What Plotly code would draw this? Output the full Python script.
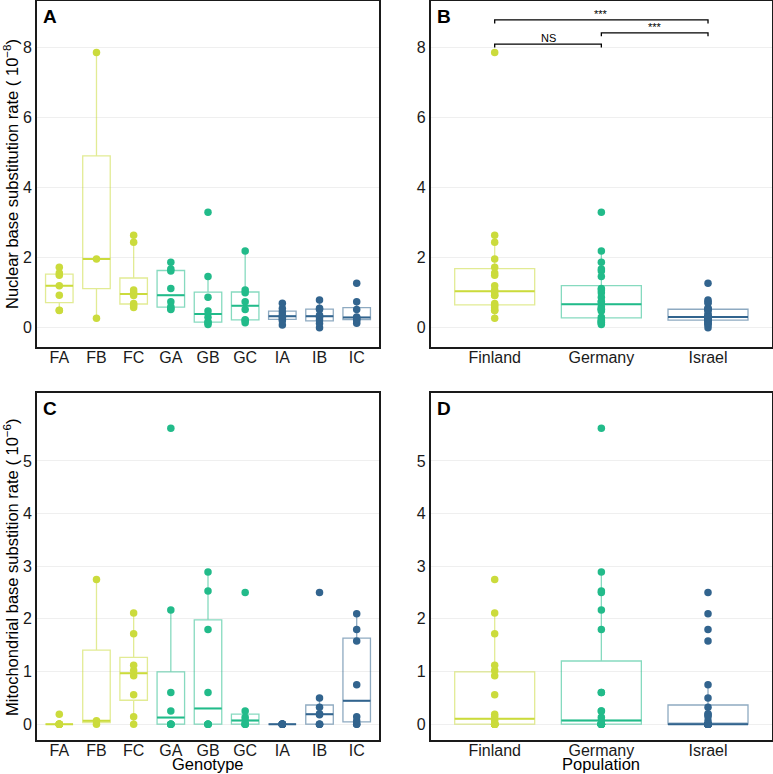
import numpy as np
import plotly.graph_objects as go

# ---------------- data ----------------
genotypes = ["FA", "FB", "FC", "GA", "GB", "GC", "IA", "IB", "IC"]
populations = ["Finland", "Germany", "Israel"]
genotype_pop = ["Finland", "Finland", "Finland", "Germany", "Germany", "Germany",
                "Israel", "Israel", "Israel"]
pop_colors = ["#CBDB3C", "#22BB8A", "#32648E"]

# Nuclear base substitution rate (x 1e-8)
nuc_FA = [0.49, 0.50, 0.93, 1.20, 1.50, 1.56, 1.73]
nuc_FB = [0.27, 1.96, 7.86]
nuc_FC = [0.58, 0.64, 0.69, 0.92, 1.00, 1.08, 2.44, 2.64]
nuc_GA = [0.52, 0.55, 0.60, 0.74, 1.12, 1.62, 1.68, 1.87]
nuc_GB = [0.09, 0.14, 0.17, 0.30, 0.48, 0.87, 1.46, 3.30]
nuc_GC = [0.14, 0.21, 0.23, 0.52, 0.74, 1.00, 1.08, 2.19]
nuc_IA = [0.08, 0.20, 0.25, 0.30, 0.36, 0.45, 0.55, 0.70]
nuc_IB = [0.00, 0.12, 0.22, 0.30, 0.36, 0.52, 0.56, 0.79]
nuc_IC = [0.13, 0.20, 0.24, 0.28, 0.31, 0.52, 0.74, 1.27]

# Mitochondrial base substitution rate (x 1e-6)
mit_FA = [0, 0, 0, 0, 0, 0, 0.19]
mit_FB = [0, 0.065, 2.75]
mit_FC = [0, 0.14, 0.56, 0.92, 1.02, 1.12, 1.72, 2.11]
mit_GA = [0, 0, 0, 0, 0.25, 0.60, 2.17, 5.62]
mit_GB = [0, 0, 0, 0, 0.60, 1.80, 2.53, 2.89]
mit_GC = [0, 0, 0, 0.07, 0.13, 0.25, 2.50]
mit_IA = [0, 0, 0, 0, 0, 0, 0, 0]
mit_IB = [0, 0, 0, 0.18, 0.20, 0.32, 0.50, 2.50]
mit_IC = [0, 0, 0.06, 0.14, 0.75, 1.58, 1.80, 2.10]

nuc_by_genotype = [nuc_FA, nuc_FB, nuc_FC, nuc_GA, nuc_GB, nuc_GC, nuc_IA, nuc_IB, nuc_IC]
mit_by_genotype = [mit_FA, mit_FB, mit_FC, mit_GA, mit_GB, mit_GC, mit_IA, mit_IB, mit_IC]

# significance comparisons (panel B)
sig_from = ["Finland", "Germany", "Finland"]
sig_to = ["Germany", "Israel", "Israel"]
sig_label = ["NS", "***", "***"]
sig_y = [8.10, 8.42, 8.79]

y_ticks_nuc = [0, 2, 4, 6, 8]
y_ticks_mit = [0, 1, 2, 3, 4, 5]

# ---------------- helpers ----------------
def rgba(hexc, a):
    h = hexc.lstrip("#")
    r, g, b = int(h[0:2], 16), int(h[2:4], 16), int(h[4:6], 16)
    return f"rgba({r},{g},{b},{a})"


def box_stats(vals):
    v = np.asarray(vals, dtype=float)
    q1, med, q3 = np.percentile(v, [25, 50, 75])
    iqr = q3 - q1
    lo = v[v >= q1 - 1.5 * iqr].min()
    hi = v[v <= q3 + 1.5 * iqr].max()
    return q1, med, q3, lo, hi


def pool(groups, names, key):
    out = []
    for g, n in zip(groups, names):
        if n == key:
            out.extend(g)
    return out


fig = go.Figure()


def add_group(cat, vals, color, xa, ya, width):
    q1, med, q3, lo, hi = box_stats(vals)
    fig.add_trace(go.Box(x=[cat], q1=[q1], median=[med], q3=[q3],
                         lowerfence=[lo], upperfence=[hi], width=width,
                         line=dict(color=rgba(color, 0.55), width=1.3),
                         fillcolor="rgba(0,0,0,0)", whiskerwidth=0,
                         boxpoints=False, showlegend=False,
                         hoverinfo="skip", xaxis=xa, yaxis=ya))
    # median line drawn stronger
    fig.add_trace(go.Box(x=[cat], q1=[med], median=[med], q3=[med],
                         lowerfence=[med], upperfence=[med], width=width,
                         line=dict(color=color, width=2),
                         fillcolor="rgba(0,0,0,0)", whiskerwidth=0,
                         boxpoints=False, showlegend=False,
                         hoverinfo="skip", xaxis=xa, yaxis=ya))


def add_points(cat, vals, color, xa, ya):
    fig.add_trace(go.Scatter(x=[cat] * len(vals), y=vals, mode="markers",
                             marker=dict(size=7.5, color=color, line=dict(width=0)),
                             showlegend=False, xaxis=xa, yaxis=ya))


panels = [
    ("x", "y", genotypes, nuc_by_genotype, genotype_pop, 0.74),
    ("x3", "y3", genotypes, mit_by_genotype, genotype_pop, 0.74),
]
for xa, ya, cats, data, pops, w in panels:
    for c, vals, p in zip(cats, data, pops):
        add_group(c, vals, pop_colors[populations.index(p)], xa, ya, w)
    for c, vals, p in zip(cats, data, pops):
        add_points(c, vals, pop_colors[populations.index(p)], xa, ya)

for xa, ya, data in [("x2", "y2", nuc_by_genotype), ("x4", "y4", mit_by_genotype)]:
    for p, col in zip(populations, pop_colors):
        add_group(p, pool(data, genotype_pop, p), col, xa, ya, 0.75)
    for p, col in zip(populations, pop_colors):
        add_points(p, pool(data, genotype_pop, p), col, xa, ya)

# significance brackets
tip = 0.1
for a, b, lab, yv in zip(sig_from, sig_to, sig_label, sig_y):
    fig.add_trace(go.Scatter(x=[a, a, b, b], y=[yv - tip, yv, yv, yv - tip],
                             mode="lines", line=dict(color="black", width=1.3),
                             showlegend=False, hoverinfo="skip",
                             xaxis="x2", yaxis="y2"))
    fig.add_annotation(x=(populations.index(a) + populations.index(b)) / 2, y=yv,
                       xref="x2", yref="y2", text=lab, showarrow=False,
                       yanchor="bottom", yshift=-2,
                       font=dict(size=11, color="black"))

# ---------------- layout ----------------
W, H = 773, 774
xl = [37 / W, 379 / W]
xr = [430.7 / W, 772 / W]
yt = [1 - 347 / H, 1 - 1 / H]
yb = [1 - 740 / H, 1 - 393 / H]

font_family = "Liberation Sans, Arial, Helvetica, sans-serif"
ax_common = dict(showline=True, mirror=True, linecolor="#1a1a1a", linewidth=1.6,
                 zeroline=False, ticks="", automargin=False,
                 tickfont=dict(size=16, color="#1a1a1a"))
x_common = dict(type="category", categoryorder="array", showgrid=False,
                ticklabelstandoff=-5, **ax_common)
y_common = dict(showgrid=True, gridcolor="#EFEFEF", gridwidth=1, **ax_common)

fig.update_layout(
    width=W, height=H, margin=dict(l=0, r=0, t=0, b=0, autoexpand=False),
    paper_bgcolor="white", plot_bgcolor="white",
    font=dict(family=font_family, color="black"),
    boxmode="overlay", hovermode=False,
    xaxis=dict(domain=xl, anchor="y", categoryarray=genotypes, range=[-0.6, 8.6], **x_common),
    yaxis=dict(domain=yt, anchor="x", range=[-0.55, 9.33], tickvals=y_ticks_nuc, **y_common),
    xaxis2=dict(domain=xr, anchor="y2", categoryarray=populations, range=[-0.6, 2.6], **x_common),
    yaxis2=dict(domain=yt, anchor="x2", range=[-0.55, 9.33], tickvals=y_ticks_nuc, **y_common),
    xaxis3=dict(domain=xl, anchor="y3", categoryarray=genotypes, range=[-0.6, 8.6], **x_common),
    yaxis3=dict(domain=yb, anchor="x3", range=[-0.30, 6.29], tickvals=y_ticks_mit, **y_common),
    xaxis4=dict(domain=xr, anchor="y4", categoryarray=populations, range=[-0.6, 2.6], **x_common),
    yaxis4=dict(domain=yb, anchor="x4", range=[-0.30, 6.29], tickvals=y_ticks_mit, **y_common),
)

# panel letters
for lab, xa, ya in [("A", "x", "y"), ("B", "x2", "y2"), ("C", "x3", "y3"), ("D", "x4", "y4")]:
    fig.add_annotation(text=f"<b>{lab}</b>", xref=f"{xa} domain", yref=f"{ya} domain",
                       x=0, y=1, xanchor="left", yanchor="top", xshift=4, yshift=-3,
                       showarrow=False, font=dict(size=19, color="black"))

# axis titles
fig.add_annotation(text="Nuclear base substitution rate ( 10<sup>\u22128</sup>)",
                   xref="paper", yref="paper", x=11 / W, y=1 - 174 / H,
                   xanchor="center", yanchor="middle", textangle=-90,
                   showarrow=False, font=dict(size=16.5, color="black"))
fig.add_annotation(text="Mitochondrial base substition rate ( 10<sup>\u22126</sup>)",
                   xref="paper", yref="paper", x=11 / W, y=1 - 567 / H,
                   xanchor="center", yanchor="middle", textangle=-90,
                   showarrow=False, font=dict(size=16.5, color="black"))
fig.add_annotation(text="Genotype", xref="paper", yref="paper",
                   x=(xl[0] + xl[1]) / 2, y=0, xanchor="center", yanchor="bottom",
                   yshift=-1, showarrow=False, font=dict(size=16.5, color="black"))
fig.add_annotation(text="Population", xref="paper", yref="paper",
                   x=(xr[0] + xr[1]) / 2, y=0, xanchor="center", yanchor="bottom",
                   yshift=-1, showarrow=False, font=dict(size=16.5, color="black"))

fig.write_html("out.html", config={"displayModeBar": False},
               post_script="document.body.style.margin='0px';document.body.style.overflow='hidden';")
